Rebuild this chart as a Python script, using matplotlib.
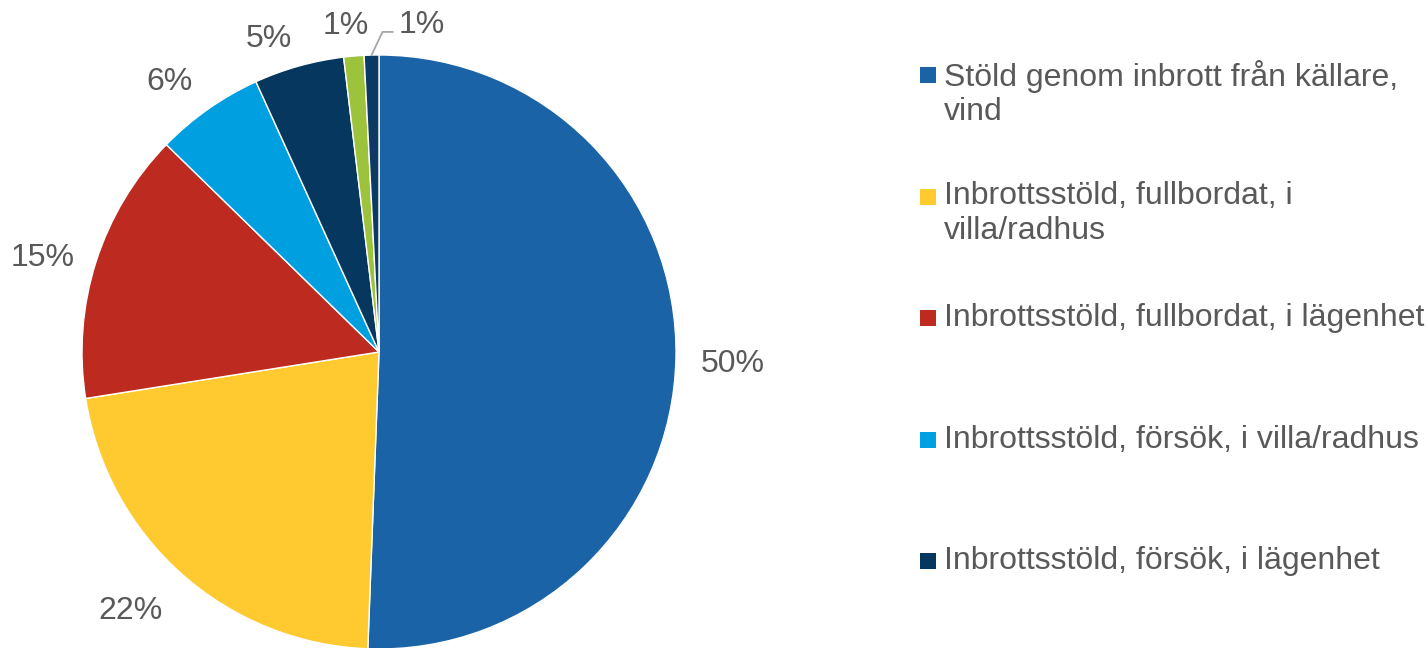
import matplotlib
matplotlib.use("Agg")
import matplotlib.pyplot as plt
from matplotlib.patches import Rectangle
import numpy as np

plt.rcParams['font.family'] = ['Liberation Sans', 'DejaVu Sans']

# andelar (%), medurs fran klockan 12
categories = [
    "Stöld genom inbrott från källare,\nvind",
    "Inbrottsstöld, fullbordat, i\nvilla/radhus",
    "Inbrottsstöld, fullbordat, i lägenhet",
    "Inbrottsstöld, försök, i villa/radhus",
    "Inbrottsstöld, försök, i lägenhet",
    "Övrigt 1",
    "Övrigt 2",
]
values = [50.6, 21.9, 14.8, 5.9, 4.9, 1.1, 0.8]
pct_labels = ["50%", "22%", "15%", "6%", "5%", "1%", "1%"]
colors = ["#1A63A7", "#FFCA2F", "#BC2A20", "#009FE0", "#06385F", "#9DC23B", "#0C3A64"]
n_legend = 5

txt_color = "#595959"

fig = plt.figure(figsize=(14.28, 6.48), dpi=100)
W, H = 1428, 648
cx, cy, r = 379, 352, 297
ax = fig.add_axes([(cx - r) / W, (H - cy - r) / H, 2 * r / W, 2 * r / H])

wedges, _ = ax.pie(values, colors=colors, startangle=90, counterclock=False,
                   wedgeprops=dict(edgecolor="white", linewidth=1))
for w in wedges:
    w.set_clip_on(False)
ax.set_xlim(-1, 1)
ax.set_ylim(-1, 1)
ax.set_aspect("equal")
ax.axis("off")

# etiketter
label_dist = [1.19, 1.20, 1.18, 1.16, 1.12, 1.12]
label_dx = [0, -0.04, -0.007, -0.04, -0.067, -0.016]
label_dy = [0, 0.044, -0.024, -0.024, -0.007, 0]
for i, w in enumerate(wedges[:-1]):
    ang = np.deg2rad((w.theta1 + w.theta2) / 2)
    x = label_dist[i] * np.cos(ang) + label_dx[i]
    y = label_dist[i] * np.sin(ang) + label_dy[i] - 0.017
    ax.text(x, y, pct_labels[i], ha="center", va="center", fontsize=23,
            color=txt_color, clip_on=False)

# sista etiketten med hänvisningslinje
w = wedges[-1]
ang = np.deg2rad((w.theta1 + w.theta2) / 2)
px, py = np.cos(ang), np.sin(ang)
kx, ky = px + 0.037, py + 0.078
ex = kx + 0.034
ax.plot([px, kx, ex], [py, ky, ky], color="#A6A6A6", lw=1.3, clip_on=False,
        solid_joinstyle="miter")
ax.text(ex + 0.02, ky + 0.025, pct_labels[-1], ha="left", va="center",
        fontsize=23, color=txt_color, clip_on=False)

# förklaring
y0, step = 75, 121.5
for i in range(n_legend):
    y = y0 + i * step
    fig.patches.append(Rectangle((920 / W, 1 - (y + 8) / H), 16 / W, 16 / H,
                                 transform=fig.transFigure, facecolor=colors[i],
                                 edgecolor="none"))
    fig.text(944 / W, 1 - (y - 15) / H, categories[i], ha="left", va="top",
             fontsize=23, color=txt_color, linespacing=1.19)

fig.savefig("out.png", dpi=100)
